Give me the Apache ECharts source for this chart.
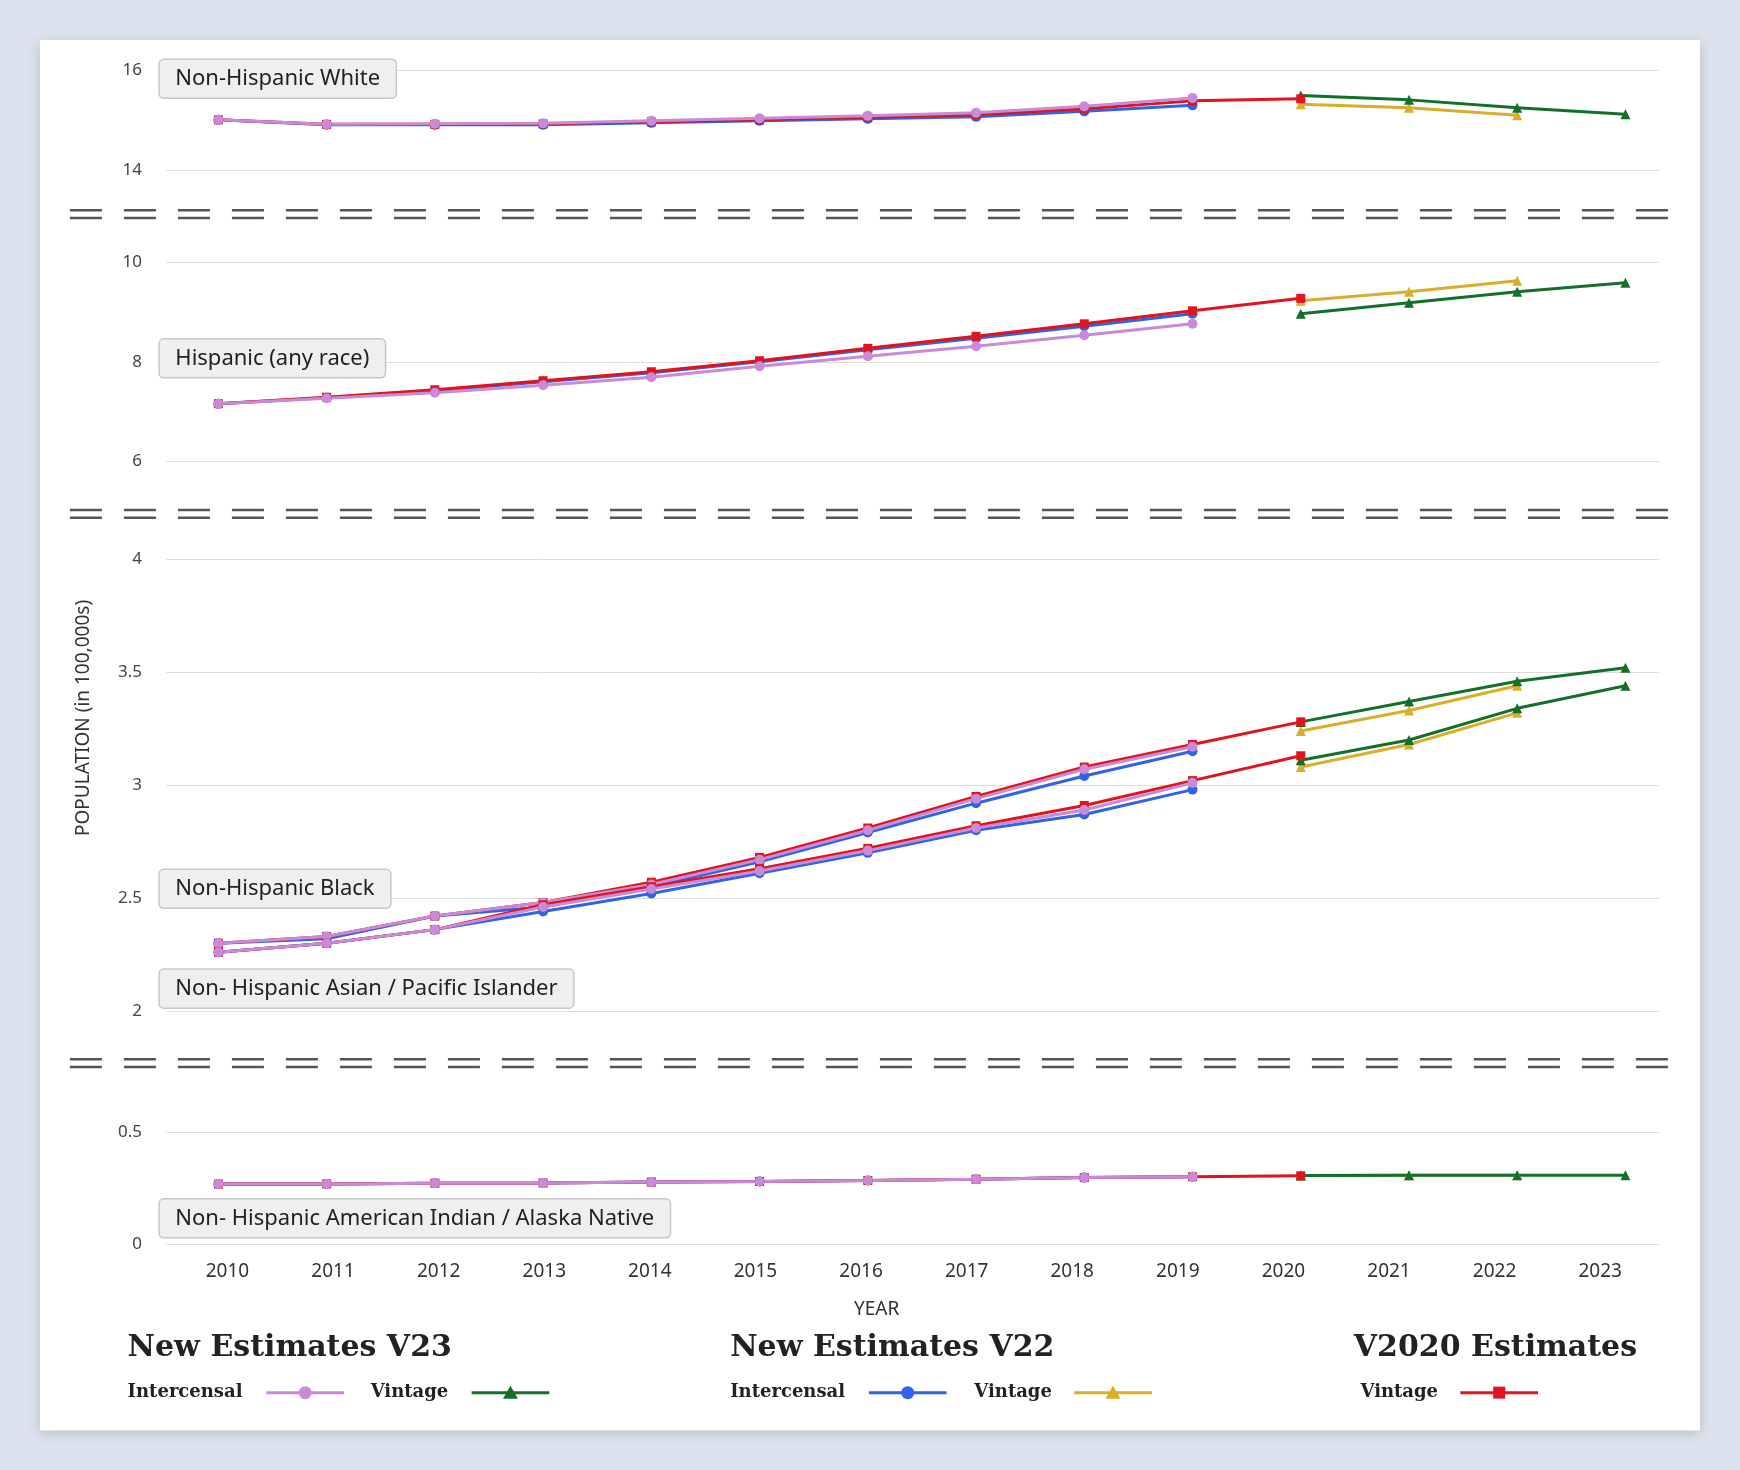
<!DOCTYPE html>
<html><head><meta charset="utf-8">
<script src="https://cdn.jsdelivr.net/npm/echarts@6/dist/echarts.min.js"></script>
<style>html,body{margin:0;padding:0;background:#dde3ee;}#c{width:1740px;height:1470px;}</style>
</head><body><div id="c"></div>
<script>
// ---- data ----
const yearsInt = [2010,2011,2012,2013,2014,2015,2016,2017,2018,2019];
const yearsRed = [2010,2011,2012,2013,2014,2015,2016,2017,2018,2019,2020];
const yearsV23 = [2020,2021,2022,2023];
const yearsV22 = [2020,2021,2022];
const xTicks = [2010,2011,2012,2013,2014,2015,2016,2017,2018,2019,2020,2021,2022,2023];

const whiteV23Int = [15.0,14.91,14.92,14.93,14.98,15.03,15.08,15.14,15.27,15.44];
const whiteV22Int = [15.0,14.90,14.90,14.90,14.94,14.98,15.02,15.06,15.17,15.29];
const whiteV20 = [15.0,14.91,14.91,14.92,14.96,15.0,15.05,15.1,15.22,15.38,15.42];
const whiteV23Vin = [15.49,15.40,15.24,15.11];
const whiteV22Vin = [15.31,15.24,15.09];

const hispV23Int = [7.16,7.27,7.38,7.53,7.69,7.91,8.11,8.31,8.53,8.76];
const hispV22Int = [7.16,7.28,7.42,7.60,7.78,8.00,8.24,8.47,8.71,8.96];
const hispV20 = [7.16,7.29,7.44,7.62,7.80,8.02,8.27,8.51,8.76,9.02,9.27];
const hispV23Vin = [8.96,9.18,9.40,9.58];
const hispV22Vin = [9.22,9.40,9.62];

const blackV23Int = [2.30,2.33,2.42,2.48,2.56,2.67,2.80,2.94,3.07,3.17];
const blackV22Int = [2.30,2.32,2.42,2.46,2.55,2.66,2.79,2.92,3.04,3.15];
const blackV20 = [2.30,2.33,2.42,2.48,2.57,2.68,2.81,2.95,3.08,3.18,3.28];
const blackV23Vin = [3.28,3.37,3.46,3.52];
const blackV22Vin = [3.24,3.33,3.44];

const asianV23Int = [2.26,2.30,2.36,2.46,2.54,2.62,2.71,2.81,2.89,3.01];
const asianV22Int = [2.26,2.30,2.36,2.44,2.52,2.61,2.70,2.80,2.87,2.98];
const asianV20 = [2.26,2.30,2.36,2.47,2.55,2.63,2.72,2.82,2.91,3.02,3.13];
const asianV23Vin = [3.11,3.20,3.34,3.44];
const asianV22Vin = [3.08,3.18,3.32];

const aianV23Int = [0.267,0.268,0.271,0.272,0.276,0.279,0.283,0.289,0.296,0.300];
const aianV22Int = [0.267,0.268,0.271,0.272,0.276,0.279,0.283,0.289,0.296,0.300];
const aianV20 = [0.267,0.268,0.271,0.272,0.276,0.279,0.283,0.289,0.296,0.300,0.304];
const aianV23Vin = [0.305,0.306,0.306,0.306];
const aianV22Vin = [0.305,0.306,0.306];

const panelLabels = ['Non-Hispanic White','Hispanic (any race)','Non-Hispanic Black','Non- Hispanic Asian / Pacific Islander','Non- Hispanic American Indian / Alaska Native'];

// ---- layout ----
const S = 1740/1568;
const C = {purple:'#c98ad8', blue:'#2f64e8', green:'#12702a', yellow:'#d8ae2a', red:'#e0141e'};
const panels = [
  {top:63,bottom:153,min:14,max:16,interval:2},
  {top:236,bottom:416,min:6,max:10,interval:2},
  {top:504,bottom:911,min:2,max:4,interval:0.5},
  {top:1020,bottom:1121,min:0,max:0.5,interval:0.5}
];
const zip = (xs, vs) => xs.map((x,i)=>[x,vs[i]]);
const grid=[], xAxis=[], yAxis=[], series=[];
panels.forEach((p,i)=>{
  grid.push({left:150*S, right:1740-1495*S, top:p.top*S, height:(p.bottom-p.top)*S});
  xAxis.push({type:'value', gridIndex:i, min:2009.52, max:2023.31,
    axisLine:{show:false}, axisTick:{show:false}, splitLine:{show:false}, axisLabel:{show:false}});
  yAxis.push({type:'value', gridIndex:i, min:p.min, max:p.max, interval:p.interval,
    axisLine:{show:false}, axisTick:{show:false},
    splitLine:{lineStyle:{color:'#dcdcdc', width:1}},
    axisLabel:{color:'#444', fontSize:17, fontFamily:'Noto Sans', margin:22*S}});
});
// label-only year axis in the bottom panel
xAxis.push({type:'value', gridIndex:3, min:2009.422, max:2023.557, position:'bottom',
  axisLine:{show:false}, axisTick:{show:false}, splitLine:{show:false},
  axisLabel:{customValues:xTicks, color:'#333', fontSize:19, fontFamily:'Noto Sans', margin:16*S, formatter:v=>String(v)}});

function addSet(i, v23i, v22i, v20, v23v, v22v){
  const mk = (name, xs, vs, color, symbol) => ({type:'line', name, xAxisIndex:i, yAxisIndex:i,
    data:zip(xs,vs), symbol, symbolSize: symbol==='rect'?9:10, showSymbol:true,
    lineStyle:{color, width:3}, itemStyle:{color}, animation:false});
  series.push(mk('V22 Vintage', yearsV22, v22v, C.yellow, 'triangle'));
  series.push(mk('V23 Vintage', yearsV23, v23v, C.green, 'triangle'));
  series.push(mk('V22 Intercensal', yearsInt, v22i, C.blue, 'circle'));
  series.push(mk('V2020 Vintage', yearsRed, v20, C.red, 'rect'));
  series.push(mk('V23 Intercensal', yearsInt, v23i, C.purple, 'circle'));
}
addSet(0, whiteV23Int, whiteV22Int, whiteV20, whiteV23Vin, whiteV22Vin);
addSet(1, hispV23Int, hispV22Int, hispV20, hispV23Vin, hispV22Vin);
addSet(2, blackV23Int, blackV22Int, blackV20, blackV23Vin, blackV22Vin);
addSet(2, asianV23Int, asianV22Int, asianV20, asianV23Vin, asianV22Vin);
addSet(3, aianV23Int, aianV22Int, aianV20, aianV23Vin, aianV22Vin);

// ---- graphics ----
const g = [];
g.push({type:'rect', z:-10, shape:{x:36*S,y:36*S,width:1496*S,height:1253*S}, style:{fill:'#fff', shadowBlur:12, shadowColor:'rgba(0,0,0,0.18)', shadowOffsetY:3}});
[193,463,958].forEach(y=>{
  [-3.5,3.5].forEach(d=>{
    g.push({type:'line', shape:{x1:63*S,y1:(y+d)*S,x2:1505*S,y2:(y+d)*S}, style:{stroke:'#555', lineWidth:2.5, lineDash:[32,22]}});
  });
});
const boxPos = [[144,54],[144,306],[144,784],[144,874],[144,1081]];
panelLabels.forEach((t,i)=>{
  g.push({type:'text', z:50, x:boxPos[i][0]*S, y:boxPos[i][1]*S,
    style:{text:t, font:'22px "Noto Sans"', fill:'#222', backgroundColor:'#efefef', borderColor:'#c8c8c8', borderWidth:1.5, borderRadius:4, padding:[7*S,14*S,7*S,14*S]}});
});
g.push({type:'text', x:75*S, y:647*S, rotation:Math.PI/2, style:{text:'POPULATION (in 100,000s)', font:'19px "Noto Sans"', fill:'#333', align:'center', verticalAlign:'middle'}});
g.push({type:'text', x:790*S, y:1180*S, style:{text:'YEAR', font:'19px "Noto Sans"', fill:'#333', align:'center', verticalAlign:'middle'}});
function legendItem(x, y, color, symbol){
  g.push({type:'line', shape:{x1:x*S,y1:y*S,x2:(x+70)*S,y2:y*S}, style:{stroke:color, lineWidth:3}});
  const cx=(x+35)*S, cy=y*S;
  if(symbol==='circle') g.push({type:'circle', shape:{cx,cy,r:6.5}, style:{fill:color}});
  else if(symbol==='triangle') g.push({type:'polygon', shape:{points:[[cx,cy-7],[cx-7.5,cy+6],[cx+7.5,cy+6]]}, style:{fill:color}});
  else g.push({type:'rect', shape:{x:cx-6,y:cy-6,width:12,height:12}, style:{fill:color}});
}
function legendText(t, x, y, size){
  g.push({type:'text', x:x*S, y:y*S, style:{text:t, font:'bold '+size+'px "DejaVu Serif"', fill:'#222', verticalAlign:'middle'}});
}
legendText('New Estimates V23',115,1215,30); legendText('Intercensal',115,1255,18); legendItem(240,1255,C.purple,'circle'); legendText('Vintage',334,1255,18); legendItem(425,1255,C.green,'triangle');
legendText('New Estimates V22',658,1215,30); legendText('Intercensal',658,1255,18); legendItem(783,1255,C.blue,'circle'); legendText('Vintage',878,1255,18); legendItem(968,1255,C.yellow,'triangle');
legendText('V2020 Estimates',1220,1215,30); legendText('Vintage',1226,1255,18); legendItem(1316,1255,C.red,'rect');

const chart = echarts.init(document.getElementById('c'));
chart.setOption({backgroundColor:'#dde3ee', animation:false, grid, xAxis, yAxis, series, graphic:g});
</script></body></html>
